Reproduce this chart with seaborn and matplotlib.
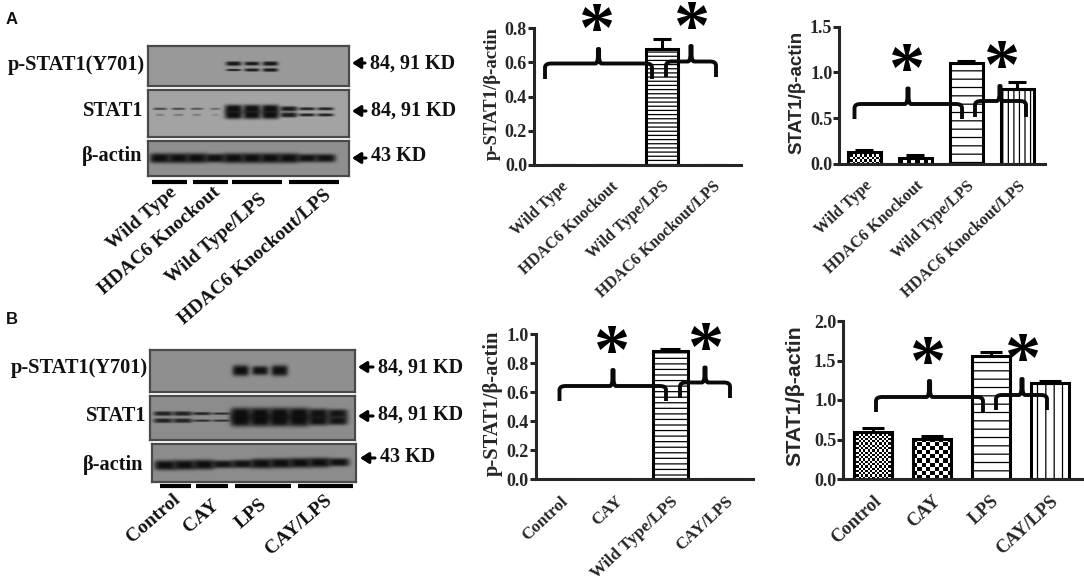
import numpy as np
import matplotlib
matplotlib.use("Agg")
import matplotlib.pyplot as plt
from matplotlib.path import Path
from matplotlib.patches import PathPatch
import seaborn as sns

# Bar chart data
a_labels = ["Wild Type", "HDAC6 Knockout", "Wild Type/LPS", "HDAC6 Knockout/LPS"]
b1_labels = ["Control", "CAY", "Wild Type/LPS", "CAY/LPS"]
b2_labels = ["Control", "CAY", "LPS", "CAY/LPS"]

a_pstat = [0.0, 0.0, 0.68, 0.0]
a_pstat_err = [0.0, 0.0, 0.055, 0.0]
a_stat = [0.13, 0.07, 1.10, 0.82]
a_stat_err = [0.02, 0.025, 0.025, 0.08]
b_pstat = [0.0, 0.0, 0.885, 0.0]
b_pstat_err = [0.0, 0.0, 0.015, 0.0]
b_stat = [0.60, 0.51, 1.56, 1.21]
b_stat_err = [0.04, 0.04, 0.05, 0.03]

a_pstat_ticks = [0.0, 0.2, 0.4, 0.6, 0.8]
a_stat_ticks = [0.0, 0.5, 1.0, 1.5]
b_pstat_ticks = [0.0, 0.2, 0.4, 0.6, 0.8, 1.0]
b_stat_ticks = [0.0, 0.5, 1.0, 1.5, 2.0]

# Band strength per lane, read by eye from the blots
a_pstat_upper = [0, 0, 0, 0, 0.95, 0.93, 0.95, 0, 0, 0]
a_pstat_lower = [0, 0, 0, 0, 0.85, 0.9, 0.92, 0, 0, 0]
a_total_upper = [0.6, 0.6, 0.5, 0.35, 1, 1, 1, 0.92, 0.85, 0.85]
a_total_lower = [0.25, 0.3, 0.25, 0.15, 1, 1, 1, 0.92, 0.85, 0.85]
a_actin = [1, 1, 1, 0.98, 1, 1, 1, 1, 0.97, 0.97]
b_pstat_band = [0, 0, 0, 0, 1, 0.97, 1, 0, 0, 0]
b_total_upper = [0.85, 0.85, 0.8, 0.75, 1, 1, 1, 1, 0.97, 0.95]
b_total_lower = [0.85, 0.85, 0.75, 0.7, 1, 1, 1, 1, 0.97, 0.95]
b_actin = [1, 1, 1, 0.96, 0.97, 1, 1, 1, 1, 0.97]

W, H = 1084, 582
sns.set_style("ticks")
plt.rcParams["font.family"] = ["Liberation Serif", "DejaVu Serif"]
plt.rcParams["font.weight"] = "bold"
plt.rcParams["hatch.linewidth"] = 0.9
plt.rcParams["text.color"] = "#111111"

fig = plt.figure(figsize=(W / 100, H / 100), dpi=100)


def px_axes(x0, y0, x1, y1, **kw):
    # axes from pixel box, y measured from the top
    return fig.add_axes([x0 / W, 1 - y1 / H, (x1 - x0) / W, (y1 - y0) / H], **kw)


def checker_fill(ax, bar, cell):
    # black and white squares inside a bar, cell size in pixels
    x, y = bar.get_x(), bar.get_y()
    w, h = bar.get_width(), bar.get_height()
    if h <= 0:
        return
    box = ax.transData.transform([(x, y), (x + w, y + h)])
    nx = max(int(abs(box[1, 0] - box[0, 0]) / cell), 1)
    ny = max(int(abs(box[1, 1] - box[0, 1]) / cell), 1)
    cells = np.indices((ny, nx)).sum(axis=0) % 2
    ax.imshow(cells, cmap="gray", extent=(x, x + w, y, y + h), aspect="auto",
              interpolation="nearest", zorder=bar.get_zorder() - 0.5)
    bar.set_facecolor("none")


def bar_panel(box, first, step, labels, values, errs, ticks, fills, ylabel, label_font, width,
              label_size, label_y, label_pad, xlabel_size):
    x0, y0, x1, y1 = box
    ax = px_axes(x0, y0, x1, y1)
    sns.barplot(x=labels, y=values, order=labels, color="white", saturation=1, width=width,
                edgecolor="black", linewidth=2.2, errorbar=None, ax=ax)
    ax.set_xlim((x0 - first) / step, (x1 - first) / step)
    ax.set_ylim(ticks[0], ticks[-1])
    for bar, fill in zip(ax.containers[0], fills):
        if isinstance(fill, str):
            bar.set_hatch(fill)
        else:
            checker_fill(ax, bar, fill)
    for i, (v, e) in enumerate(zip(values, errs)):
        if e > 0:
            ax.errorbar(i, v, yerr=[[0], [e]], color="black", elinewidth=2.2,
                        capsize=width * step * 0.2, capthick=2.2, clip_on=False, zorder=5)
    ax.set_xlim((x0 - first) / step, (x1 - first) / step)
    ax.set_ylim(ticks[0], ticks[-1])
    ax.set_yticks(ticks)
    ax.set_yticklabels([f"{t:.1f}" for t in ticks], fontsize=13, fontweight="bold")
    ax.set_xticks(range(len(labels)))
    ax.set_xticklabels(labels, rotation=43, ha="right", rotation_mode="anchor",
                       fontsize=xlabel_size, fontweight="bold")
    ax.tick_params(axis="x", length=0, pad=10)
    ax.tick_params(axis="y", length=4, width=2.2, pad=1)
    ax.set_ylabel(ylabel, fontsize=label_size, fontweight="bold", family=label_font, labelpad=label_pad)
    ax.yaxis.label.set_y(label_y)
    sns.despine(ax=ax)
    ax.spines["left"].set_linewidth(2.2)
    ax.spines["bottom"].set_linewidth(2.2)
    ax.patch.set_alpha(0)
    return ax


def blot(box, bands, first, step, half_w, bg=0.62, tilt=0):
    x0, y0, x1, y1 = box
    ax = px_axes(x0, y0, x1, y1)
    w, h = int(x1 - x0), int(y1 - y0)
    xx, yy = np.meshgrid(np.arange(w) + 0.5, np.arange(h) + 0.5)
    clear = np.ones((h, w))
    for strengths, rel_y, thick in bands:
        for i, s in enumerate(strengths):
            if s <= 0:
                continue
            cx = (first + step * i) * w
            cy = rel_y * h + tilt * (i / 9 - 0.5)
            wy = max(thick * s ** 6, 1.2)
            d = s * np.exp(-np.abs((xx - cx) / (half_w * s ** 0.5)) ** 4 - np.abs((yy - cy) / wy) ** 3)
            clear *= 1 - 0.97 * d
    img = 0.04 + (bg - 0.04) * clear
    sns.heatmap(img, cmap="gray", vmin=0, vmax=1, cbar=False, xticklabels=False,
                yticklabels=False, ax=ax)
    for s in ax.spines.values():
        s.set_visible(True)
        s.set_color("#4a4a4a")
        s.set_linewidth(1.6)
    return ax


# Western blots, panel A
a_first, a_step = 0.06, 0.0915
blot((148, 46, 349, 86), [(a_pstat_upper, 0.44, 3), (a_pstat_lower, 0.6, 3)], a_first, a_step, 8, bg=0.6)
blot((148, 90, 349, 137), [(a_total_upper, 0.40, 4.2), (a_total_lower, 0.53, 4.2)], a_first, a_step, 9, bg=0.64)
blot((148, 141, 349, 176), [(a_actin, 0.49, 5)], a_first, a_step, 10.5, bg=0.56)

# Western blots, panel B
b_first, b_step = 0.065, 0.0945
blot((150, 350, 355, 392), [(b_pstat_band, 0.49, 5.5)], b_first, b_step, 8.5, bg=0.56)
blot((150, 396, 355, 440), [(b_total_upper, 0.40, 6), (b_total_lower, 0.56, 6)], b_first, b_step, 10.5, bg=0.55)
blot((152, 444, 356, 482), [(b_actin, 0.52, 5)], b_first, b_step, 11, bg=0.55, tilt=-3)

# Quantification bars, checker cell sizes are in pixels
bar_panel((534, 28.3, 741, 164.7), 560, 51, a_labels, a_pstat, a_pstat_err, a_pstat_ticks,
          [2.2, 4, "----", "|||"], "p-STAT1/β-actin", "Liberation Serif", 0.64, 13.5, 0.525, 3, 11.7)
bar_panel((839.3, 26.7, 1045, 164), 864.3, 51, a_labels, a_stat, a_stat_err, a_stat_ticks,
          [2.2, 4, "--", "|||"], "STAT1/β-actin", "Liberation Sans", 0.64, 13.5, 0.52, 3, 11.7)
bar_panel((535.7, 334.3, 753, 479.3), 560, 55.2, b1_labels, b_pstat, b_pstat_err, b_pstat_ticks,
          [2.2, 4, "---", "|||"], "p-STAT1/β-actin", "Liberation Serif", 0.62, 14.8, 0.525, 3, 12.3)
bar_panel((843.3, 321, 1082.7, 479), 873.2, 58.9, b2_labels, b_stat, b_stat_err, b_stat_ticks,
          [2.2, 4, "--", "||"], "STAT1/β-actin", "Liberation Sans", 0.65, 15.4, 0.53, 7, 13.3)

# Overlay in pixel coordinates for annotations
ov = fig.add_axes([0, 0, 1, 1], zorder=10)
ov.set_xlim(0, W)
ov.set_ylim(H, 0)
ov.axis("off")

ov.text(6, 23.5, "A", family="Liberation Sans", fontsize=12, fontweight="bold")
ov.text(6, 324.5, "B", family="Liberation Sans", fontsize=12, fontweight="bold")

left_text = [
    ("p-STAT1(Y701)", 145, 65), ("STAT1", 143, 111), ("β-actin", 142, 156),
    ("p-STAT1(Y701)", 148, 368), ("STAT1", 146, 416), ("β-actin", 143, 465),
]
for s, x, y in left_text:
    ov.text(x, y, s, ha="right", va="center", fontsize=14.7, fontweight="bold")

right_text = [
    ("84, 91 KD", 370, 64), ("84, 91 KD", 371, 111), ("43 KD", 371, 156),
    ("84, 91 KD", 378, 368), ("84, 91 KD", 378, 415), ("43 KD", 380, 457),
]
for s, x, y in right_text:
    ov.text(x, y, s, ha="left", va="center", fontsize=14.5, fontweight="bold")

arrows = [(365, 352, 63), (366, 352, 111), (366, 352, 158),
          (373, 358, 367), (373, 358, 416), (375, 360, 458)]
for x_from, x_to, y in arrows:
    ov.annotate("", xy=(x_to, y), xytext=(x_from, y),
                arrowprops=dict(arrowstyle="-|>,head_length=0.5,head_width=0.32", lw=2.2, color="black",
                                shrinkA=0, shrinkB=0))

group_bars = [
    (152, 187, 182), (193, 228, 182), (232, 282, 182), (289, 339, 182),
    (160, 191, 486), (196, 228, 486), (235, 291, 486), (298, 353, 486),
]
for x_a, x_b, y in group_bars:
    ov.plot([x_a, x_b], [y, y], color="black", lw=3, solid_capstyle="butt")

rotated = [
    ("Wild Type", 174, 190), ("HDAC6 Knockout", 218, 190), ("Wild Type/LPS", 264, 197), ("HDAC6 Knockout/LPS", 329, 193),
    ("Control", 178, 497), ("CAY", 217, 503), ("LPS", 265, 502), ("CAY/LPS", 330, 498),
]
for s, x, y in rotated:
    ov.text(x, y, s, rotation=41, ha="right", va="center", rotation_mode="anchor",
            fontsize=14, fontweight="bold")


def brace(x0, x1, xt, top, bot, tip):
    # curly bracket with a spike at xt
    r = 6
    verts = [(x0, bot), (x0, top + 4), (x0, top), (x0 + r, top),
             (xt - 3, top), (xt - 1, top), (xt - 0.6, top - 6), (xt - 0.6, tip),
             (xt + 0.6, tip), (xt + 0.6, top - 6), (xt + 1, top), (xt + 3, top),
             (x1 - r, top), (x1, top), (x1, top + 4), (x1, bot)]
    codes = [Path.MOVETO, Path.LINETO, Path.CURVE3, Path.CURVE3,
             Path.LINETO, Path.CURVE3, Path.CURVE3, Path.LINETO,
             Path.LINETO, Path.LINETO, Path.CURVE3, Path.CURVE3,
             Path.LINETO, Path.CURVE3, Path.CURVE3, Path.LINETO]
    ov.add_patch(PathPatch(Path(verts, codes), fill=False, edgecolor="#0a0a0a", lw=2.8,
                           capstyle="butt", joinstyle="round"))


braces = [
    (545, 652, 598.5, 63.5, 79, 49), (666, 716, 691, 61.5, 77, 46),
    (854.5, 962, 908, 104, 119, 88.5), (975, 1026, 1000, 101, 117, 86),
    (559.5, 666, 613, 386, 401, 370), (680, 730, 705, 382.5, 398, 367.5),
    (876, 983, 929.5, 397, 412, 381), (996, 1047, 1022, 395, 410, 379),
]
for b in braces:
    brace(*b)

stars = [(597, 19), (692, 17), (907, 59), (1002, 56), (612, 341), (706, 338), (928, 352), (1023, 349)]
for x, y in stars:
    ov.text(x, y + 32, "*", ha="center", va="baseline", fontsize=52, fontweight="bold", color="black")

plt.savefig("out.png", dpi=100)
